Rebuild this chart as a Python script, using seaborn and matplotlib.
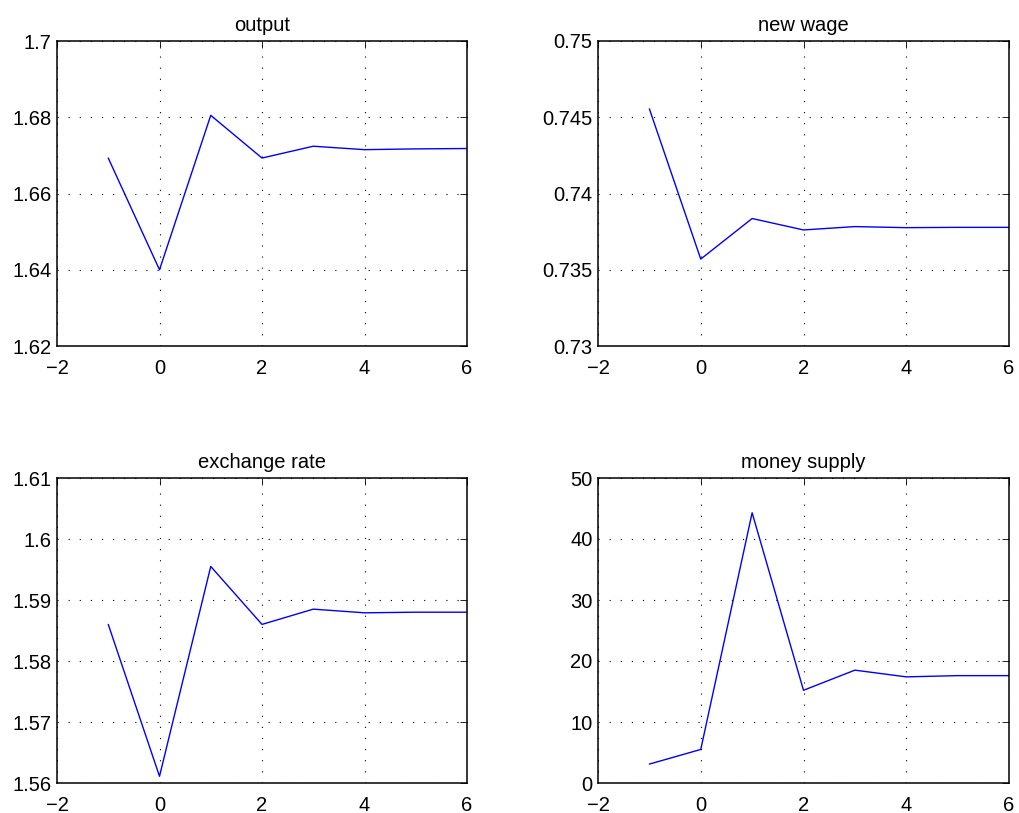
import matplotlib
matplotlib.use("Agg")
import matplotlib.pyplot as plt
import numpy as np
import pandas as pd
import seaborn as sns

# Impulse responses over periods -1..6
periods = [-1, 0, 1, 2, 3, 4, 5, 6]
output = [1.6693, 1.6400, 1.6805, 1.6693, 1.6724, 1.6715, 1.6717, 1.6718]
new_wage = [0.74555, 0.7357, 0.73836, 0.73761, 0.73783, 0.73776, 0.73778, 0.73778]
exchange_rate = [1.5860, 1.5611, 1.5955, 1.5860, 1.5885, 1.5879, 1.5880, 1.5880]
money_supply = [3.1, 5.5, 44.3, 15.2, 18.5, 17.4, 17.6, 17.6]

titles = ["output", "new wage", "exchange rate", "money supply"]
series = [output, new_wage, exchange_rate, money_supply]
ylims = [(1.62, 1.70), (0.73, 0.75), (1.56, 1.61), (0, 50)]
yticks = [
    [1.62, 1.64, 1.66, 1.68, 1.70],
    [0.73, 0.735, 0.74, 0.745, 0.75],
    [1.56, 1.57, 1.58, 1.59, 1.60, 1.61],
    [0, 10, 20, 30, 40, 50],
]
yticklabels = [
    ["1.62", "1.64", "1.66", "1.68", "1.7"],
    ["0.73", "0.735", "0.74", "0.745", "0.75"],
    ["1.56", "1.57", "1.58", "1.59", "1.6", "1.61"],
    ["0", "10", "20", "30", "40", "50"],
]
xticks = [-2, 0, 2, 4, 6]
xticklabels = ["\u22122", "0", "2", "4", "6"]

sns.set_style("white")
plt.rcParams["font.family"] = ["Liberation Sans", "DejaVu Sans"]
plt.rcParams["text.color"] = "black"

W, H = 1019, 813
fig = plt.figure(figsize=(W / 100, H / 100), dpi=100)

# axes boxes in pixels: left, top, right, bottom
boxes = [
    (57, 41, 467, 346),
    (598, 41, 1009, 346),
    (57, 478, 467, 783),
    (598, 478, 1009, 783),
]

for box, title, vals, yl, yt, ytl in zip(boxes, titles, series, ylims, yticks, yticklabels):
    l, t, r, b = box
    ax = fig.add_axes([l / W, 1 - b / H, (r - l) / W, (b - t) / H])
    df = pd.DataFrame({"period": periods, "value": vals})
    sns.lineplot(data=df, x="period", y="value", ax=ax, color="#0000ff", linewidth=1.0)
    ax.set_xlim(-2, 6)
    ax.set_ylim(*yl)
    ax.set_xticks(xticks)
    ax.set_xticklabels(xticklabels)
    ax.set_yticks(yt)
    ax.set_yticklabels(ytl)
    ax.set_xlabel("")
    ax.set_ylabel("")
    ax.set_title(title, fontsize=14.5, pad=7, color="black")
    ax.grid(True, linestyle=(0, (1, 9)), color="black", linewidth=0.8)
    ax.tick_params(direction="in", length=5, width=0.6, top=True, right=True,
                   labelsize=14.5, colors="black")
    ax.tick_params(axis="x", pad=9)
    ax.tick_params(axis="y", pad=4)
    for sp in ax.spines.values():
        sp.set_visible(True)
        sp.set_color("black")
        sp.set_linewidth(1.1)

fig.savefig("out.png", dpi=100, facecolor="white")
